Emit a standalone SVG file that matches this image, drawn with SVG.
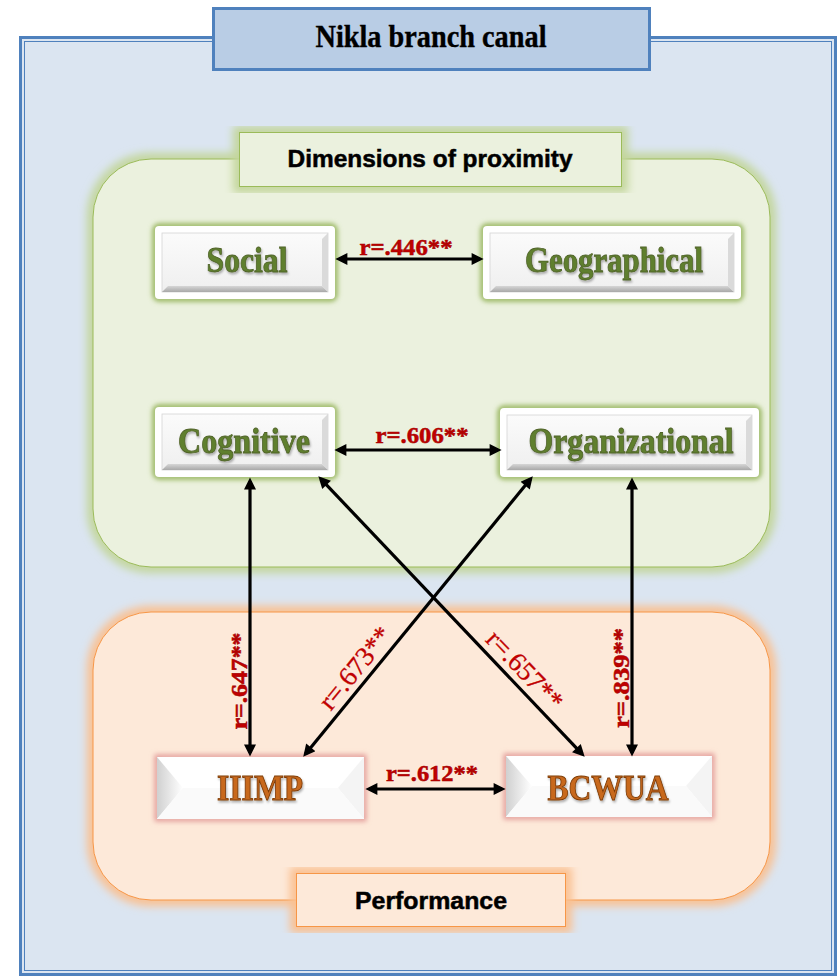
<svg xmlns="http://www.w3.org/2000/svg" width="838" height="979" viewBox="0 0 838 979">
  <defs>
    <style>
      .title { font-family: "Liberation Serif", "Times New Roman", serif; font-weight: bold; font-size: 31px; fill: #000; stroke: #000; stroke-width: 0.4; text-anchor: middle; }
      .panel-lbl { font-family: "Liberation Sans", Arial, sans-serif; font-weight: bold; font-size: 24px; fill: #000; stroke: #000; stroke-width: 0.5; text-anchor: middle; }
      .dim { font-family: "Liberation Serif", "Times New Roman", serif; font-weight: bold; font-size: 35px; fill: #5F7F2E; stroke: #4F6228; stroke-width: 0.8; text-anchor: middle; filter: url(#txtShadow); }
      .perf { font-family: "Liberation Serif", "Times New Roman", serif; font-weight: bold; font-size: 35px; fill: #C8691F; stroke: #7F3C06; stroke-width: 0.9; text-anchor: middle; filter: url(#txtShadow); }
      .r { font-family: "Liberation Serif", "Times New Roman", serif; font-weight: bold; font-size: 24px; fill: #C00000; stroke: #A00000; stroke-width: 0.5; text-anchor: middle; }
      .r-thin { font-family: "Liberation Serif", "Times New Roman", serif; font-weight: normal; font-size: 27px; fill: #C00000; stroke: #C00000; stroke-width: 0.3; text-anchor: middle; }
      .conn line { stroke: #000; stroke-width: 3.2; marker-start: url(#ah); marker-end: url(#ah); }
      .glow-g { fill: none; stroke: #C3D69B; stroke-width: 12; filter: url(#blur5); }
      .glow-o { fill: none; stroke: #FAC090; stroke-width: 12; filter: url(#blur5); }
      .nglow-g { fill: none; stroke: #8EAF4F; stroke-width: 5; filter: url(#blur3); }
      .nglow-r { fill: none; stroke: #E29A98; stroke-width: 5; filter: url(#blur3); }
      .face { fill: url(#faceGrad); stroke: #D4D4D4; stroke-width: 0.8; }
    </style>
    <filter id="blur5" x="-10%" y="-10%" width="120%" height="120%">
      <feGaussianBlur stdDeviation="4"/>
    </filter>
    <filter id="blur3" x="-20%" y="-30%" width="140%" height="160%">
      <feGaussianBlur stdDeviation="2.5"/>
    </filter>
    <filter id="txtShadow" x="-10%" y="-20%" width="120%" height="150%">
      <feDropShadow dx="1" dy="2" stdDeviation="1.2" flood-color="#000" flood-opacity="0.3"/>
    </filter>
    <linearGradient id="faceGrad" x1="0" y1="0" x2="0" y2="1">
      <stop offset="0" stop-color="#FBFBFB"/>
      <stop offset="1" stop-color="#EFEFEF"/>
    </linearGradient>
    <linearGradient id="bevBottom" x1="0" y1="0" x2="0" y2="1">
      <stop offset="0" stop-color="#D6D6D6"/>
      <stop offset="1" stop-color="#A8A8A8"/>
    </linearGradient>
    <linearGradient id="bevLeft" x1="0" y1="0" x2="1" y2="0">
      <stop offset="0" stop-color="#D0D0D0"/>
      <stop offset="1" stop-color="#FFFFFF"/>
    </linearGradient>
    <marker id="ah" viewBox="0 0 10 10" refX="7" refY="5" markerWidth="15" markerHeight="12" markerUnits="userSpaceOnUse" orient="auto-start-reverse">
      <path d="M0,0 L10,5 L0,10 z" fill="#000"/>
    </marker>
  </defs>

  <rect width="838" height="979" fill="#FFFFFF"/>

  <!-- outer frame -->
  <g id="frame">
    <rect x="20.5" y="37.5" width="815" height="937" fill="#DBE5F1" stroke="#4F81BD" stroke-width="3"/>
    <rect x="24.5" y="41.5" width="807" height="929" fill="none" stroke="#4F81BD" stroke-width="1"/>
  </g>

  <!-- title -->
  <g id="title">
    <rect x="213.5" y="8.5" width="436" height="61" fill="#B9CDE5" stroke="#4F81BD" stroke-width="3"/>
    <text class="title" x="431" y="47" textLength="231" lengthAdjust="spacingAndGlyphs">Nikla branch canal</text>
  </g>

  <!-- proximity panel -->
  <g id="proximity-panel">
    <rect class="glow-g" x="93" y="159" width="677" height="408" rx="58"/>
    <rect x="93" y="159" width="677" height="408" rx="58" fill="#EBF1DE" stroke="#9BBB59" stroke-width="1"/>
    <rect class="glow-g" x="239" y="132" width="383" height="55"/>
    <rect x="239.5" y="132.5" width="382" height="54" fill="#EBF1DE" stroke="#9BBB59" stroke-width="1"/>
    <text class="panel-lbl" x="430" y="167" textLength="285" lengthAdjust="spacingAndGlyphs">Dimensions of proximity</text>
  </g>

  <!-- performance panel -->
  <g id="performance-panel">
    <rect class="glow-o" x="93" y="612" width="677" height="288" rx="58"/>
    <rect x="93" y="612" width="677" height="288" rx="58" fill="#FDE9D9" stroke="#F79646" stroke-width="1"/>
    <rect class="glow-o" x="296" y="873" width="270" height="54"/>
    <rect x="296.5" y="873.5" width="269" height="53" fill="#FDE9D9" stroke="#F79646" stroke-width="1"/>
    <text class="panel-lbl" x="431" y="909" textLength="152" lengthAdjust="spacingAndGlyphs">Performance</text>
  </g>

  <!-- proximity nodes -->
  <g id="social">
    <rect class="nglow-g" x="155" y="226" width="180" height="73" rx="4"/>
    <rect x="155" y="226" width="180" height="73" rx="4" fill="#FFFFFF"/>
    <rect class="face" x="162" y="233" width="166" height="59"/>
    <polygon points="162,292 328,292 322,286 168,286" fill="url(#bevBottom)"/>
    <polygon points="328,233 328,292 322,286 322,239" fill="#DADADA"/>
    <text class="dim" x="247" y="272" textLength="81" lengthAdjust="spacingAndGlyphs">Social</text>
  </g>

  <g id="geographical">
    <rect class="nglow-g" x="483" y="226" width="258" height="73" rx="4"/>
    <rect x="483" y="226" width="258" height="73" rx="4" fill="#FFFFFF"/>
    <rect class="face" x="490" y="233" width="244" height="59"/>
    <polygon points="490,292 734,292 728,286 496,286" fill="url(#bevBottom)"/>
    <polygon points="734,233 734,292 728,286 728,239" fill="#DADADA"/>
    <text class="dim" x="614" y="272" textLength="178" lengthAdjust="spacingAndGlyphs">Geographical</text>
  </g>

  <g id="cognitive">
    <rect class="nglow-g" x="155" y="407" width="180" height="70" rx="4"/>
    <rect x="155" y="407" width="180" height="70" rx="4" fill="#FFFFFF"/>
    <rect class="face" x="162" y="414" width="166" height="56"/>
    <polygon points="162,470 328,470 322,464 168,464" fill="url(#bevBottom)"/>
    <polygon points="328,414 328,470 322,464 322,420" fill="#DADADA"/>
    <text class="dim" x="244" y="453" textLength="132" lengthAdjust="spacingAndGlyphs">Cognitive</text>
  </g>

  <g id="organizational">
    <rect class="nglow-g" x="500" y="408" width="259" height="69" rx="4"/>
    <rect x="500" y="408" width="259" height="69" rx="4" fill="#FFFFFF"/>
    <rect class="face" x="507" y="415" width="245" height="55"/>
    <polygon points="507,470 752,470 746,464 513,464" fill="url(#bevBottom)"/>
    <polygon points="752,415 752,470 746,464 746,421" fill="#DADADA"/>
    <text class="dim" x="631" y="453" textLength="205" lengthAdjust="spacingAndGlyphs">Organizational</text>
  </g>

  <!-- performance nodes -->
  <g id="iiimp">
    <rect class="nglow-r" x="157" y="757" width="207" height="62"/>
    <rect x="157" y="757" width="207" height="62" fill="#FFFFFF"/>
    <polygon points="157,757 183,788 157,819" fill="url(#bevLeft)"/>
    <polygon points="364,757 364,819 338,788" fill="#F4F4F4"/>
    <polygon points="157,819 183,788 338,788 364,819" fill="#FAFAFA"/>
    <text class="perf" x="260" y="800" textLength="86" lengthAdjust="spacingAndGlyphs">IIIMP</text>
  </g>

  <g id="bcwua">
    <rect class="nglow-r" x="506" y="756" width="206" height="61"/>
    <rect x="506" y="756" width="206" height="61" fill="#FFFFFF"/>
    <polygon points="506,756 532,786 506,817" fill="url(#bevLeft)"/>
    <polygon points="712,756 712,817 686,786" fill="#F4F4F4"/>
    <polygon points="506,817 532,786 686,786 712,817" fill="#FAFAFA"/>
    <text class="perf" x="608" y="800" textLength="121" lengthAdjust="spacingAndGlyphs">BCWUA</text>
  </g>

  <!-- connectors -->
  <g id="connectors" class="conn">
    <line x1="339" y1="259" x2="480" y2="259"/>
    <line x1="338" y1="450" x2="498" y2="450"/>
    <line x1="369" y1="789" x2="502" y2="789"/>
    <line x1="250" y1="481" x2="250" y2="753"/>
    <line x1="632" y1="481" x2="632" y2="753"/>
    <line x1="320.8" y1="478.9" x2="582.2" y2="754.1"/>
    <line x1="530.5" y1="479.1" x2="305.5" y2="753.9"/>
  </g>

  <!-- correlation labels -->
  <g id="labels">
    <text class="r" x="406" y="255" textLength="93" lengthAdjust="spacingAndGlyphs">r=.446**</text>
    <text class="r" x="422" y="443" textLength="93" lengthAdjust="spacingAndGlyphs">r=.606**</text>
    <text class="r" x="432" y="781" textLength="92" lengthAdjust="spacingAndGlyphs">r=.612**</text>
    <text class="r" transform="translate(247,681) rotate(-90)" textLength="97" lengthAdjust="spacingAndGlyphs">r=.647**</text>
    <text class="r" transform="translate(629,678) rotate(-90)" textLength="100" lengthAdjust="spacingAndGlyphs">r=.839**</text>
    <text class="r-thin" transform="translate(355,668) rotate(-50.7) translate(0,9)">r=.673**</text>
    <text class="r-thin" transform="translate(525,670) rotate(46.5) translate(0,9)">r=.657**</text>
  </g>
</svg>
